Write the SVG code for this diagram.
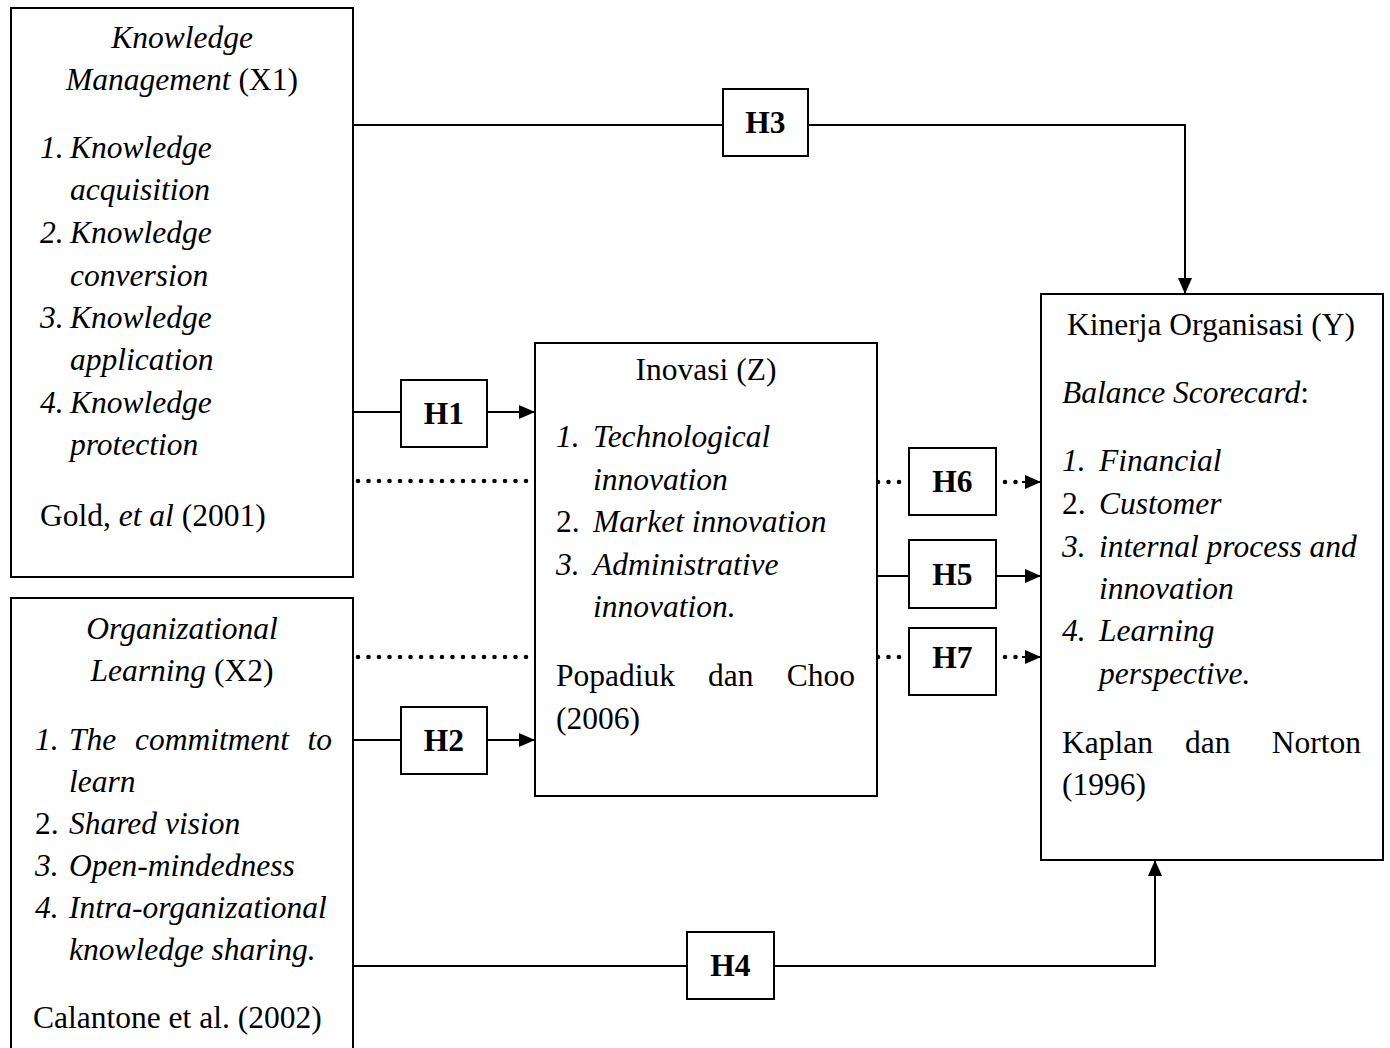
<svg xmlns="http://www.w3.org/2000/svg" width="1390" height="1048" viewBox="0 0 1390 1048">
<style>
  text { font-family: "Liberation Serif", "Times New Roman", serif; font-size: 31.5px; fill: #000; }
  .i { font-style: italic; }
  .c { text-anchor: middle; }
  .h { font-weight: bold; text-anchor: middle; }
  .box { fill: #fff; stroke: #000; stroke-width: 2; }
  .ln { fill: none; stroke: #000; stroke-width: 2; }
  .dot { fill: none; stroke: #000; stroke-width: 4.6; stroke-linecap: round; stroke-dasharray: 0 10.5; }
</style>
<defs>
  <marker id="arr" markerUnits="userSpaceOnUse" markerWidth="16" markerHeight="14" refX="16" refY="7" orient="auto">
    <path d="M0,0 L16,7 L0,14 Z" fill="#000"/>
  </marker>
</defs>
<rect width="1390" height="1048" fill="#fff"/>

<g id="connectors">
  <polyline class="ln" points="353,125 723,125"/>
  <polyline class="ln" points="808,125 1185,125 1185,294" marker-end="url(#arr)"/>
  <line class="ln" x1="353" y1="412" x2="401" y2="412"/>
  <line class="ln" x1="487" y1="412" x2="535" y2="412" marker-end="url(#arr)"/>
  <line class="dot" x1="358" y1="481" x2="532" y2="481"/>
  <line class="dot" x1="358" y1="657" x2="532" y2="657"/>
  <line class="ln" x1="353" y1="740" x2="401" y2="740"/>
  <line class="ln" x1="487" y1="740" x2="535" y2="740" marker-end="url(#arr)"/>
  <line class="dot" x1="878" y1="482" x2="908" y2="482"/>
  <line class="dot" x1="1005" y1="482" x2="1016" y2="482"/>
  <line class="ln" x1="1022" y1="482" x2="1041" y2="482" stroke-width="0" marker-end="url(#arr)"/>
  <line class="ln" x1="877" y1="576" x2="909" y2="576"/>
  <line class="ln" x1="996" y1="576" x2="1041" y2="576" marker-end="url(#arr)"/>
  <line class="dot" x1="878" y1="657" x2="908" y2="657"/>
  <line class="dot" x1="1005" y1="657" x2="1016" y2="657"/>
  <line class="ln" x1="1022" y1="657" x2="1041" y2="657" stroke-width="0" marker-end="url(#arr)"/>
  <line class="ln" x1="353" y1="966" x2="687" y2="966"/>
  <polyline class="ln" points="774,966 1155,966 1155,860" marker-end="url(#arr)"/>
</g>

<g id="x1">
  <rect class="box" x="11" y="8" width="342" height="569"/>
  <text class="i c" x="182" y="48">Knowledge</text>
  <text class="c" x="182" y="90"><tspan class="i">Management</tspan> (X1)</text>
  <text class="i" x="40" y="158">1.</text><text class="i" x="70" y="158">Knowledge</text>
  <text class="i" x="70" y="200">acquisition</text>
  <text class="i" x="40" y="243">2.</text><text class="i" x="70" y="243">Knowledge</text>
  <text class="i" x="70" y="286">conversion</text>
  <text class="i" x="40" y="328">3.</text><text class="i" x="70" y="328">Knowledge</text>
  <text class="i" x="70" y="370">application</text>
  <text class="i" x="40" y="413">4.</text><text class="i" x="70" y="413">Knowledge</text>
  <text class="i" x="70" y="455">protection</text>
  <text x="40" y="526">Gold, <tspan class="i">et al</tspan> (2001)</text>
</g>

<g id="x2">
  <rect class="box" x="11" y="598" width="342" height="460"/>
  <text class="i c" x="182" y="639">Organizational</text>
  <text class="c" x="182" y="681"><tspan class="i">Learning</tspan> (X2)</text>
  <text class="i" x="35" y="750">1.</text>
  <text class="i" x="69" y="750">The</text>
  <text class="i" x="135" y="750">commitment</text>
  <text class="i" x="332" y="750" text-anchor="end">to</text>
  <text class="i" x="69" y="792">learn</text>
  <text x="35" y="834">2.</text><text class="i" x="69" y="834">Shared vision</text>
  <text class="i" x="35" y="876">3.</text><text class="i" x="69" y="876">Open-mindedness</text>
  <text class="i" x="35" y="918">4.</text><text class="i" x="69" y="918">Intra-organizational</text>
  <text class="i" x="69" y="960">knowledge sharing.</text>
  <text x="33" y="1028">Calantone et al. (2002)</text>
</g>

<g id="z">
  <rect class="box" x="535" y="343" width="342" height="453"/>
  <text class="c" x="706" y="380">Inovasi (Z)</text>
  <text class="i" x="556" y="447">1.</text><text class="i" x="593" y="447">Technological</text>
  <text class="i" x="593" y="490">innovation</text>
  <text x="556" y="532">2.</text><text class="i" x="593" y="532">Market innovation</text>
  <text class="i" x="556" y="575">3.</text><text class="i" x="593" y="575">Administrative</text>
  <text class="i" x="593" y="617">innovation.</text>
  <text x="556" y="686">Popadiuk</text>
  <text x="708" y="686">dan</text>
  <text x="855" y="686" text-anchor="end">Choo</text>
  <text x="556" y="729">(2006)</text>
</g>

<g id="y">
  <rect class="box" x="1041" y="294" width="342" height="566"/>
  <text x="1067" y="335">Kinerja Organisasi (Y)</text>
  <text x="1062" y="403"><tspan class="i">Balance Scorecard</tspan>:</text>
  <text class="i" x="1062" y="471">1.</text><text class="i" x="1099" y="471">Financial</text>
  <text x="1062" y="514">2.</text><text class="i" x="1099" y="514">Customer</text>
  <text class="i" x="1062" y="557">3.</text><text class="i" x="1099" y="557">internal process and</text>
  <text class="i" x="1099" y="599">innovation</text>
  <text class="i" x="1062" y="641">4.</text><text class="i" x="1099" y="641">Learning</text>
  <text class="i" x="1099" y="684">perspective.</text>
  <text x="1062" y="753">Kaplan</text>
  <text x="1185" y="753">dan</text>
  <text x="1361" y="753" text-anchor="end">Norton</text>
  <text x="1062" y="795">(1996)</text>
</g>

<g id="h3"><rect class="box" x="723" y="89" width="85" height="67"/><text class="h" x="765.5" y="133">H3</text></g>
<g id="h1"><rect class="box" x="401" y="380" width="86" height="67"/><text class="h" x="444" y="424">H1</text></g>
<g id="h2"><rect class="box" x="401" y="707" width="86" height="67"/><text class="h" x="444" y="751">H2</text></g>
<g id="h6"><rect class="box" x="909" y="448" width="87" height="67"/><text class="h" x="952.5" y="492">H6</text></g>
<g id="h5"><rect class="box" x="909" y="540" width="87" height="68"/><text class="h" x="952.5" y="585">H5</text></g>
<g id="h7"><rect class="box" x="909" y="628" width="87" height="67"/><text class="h" x="952.5" y="668">H7</text></g>
<g id="h4"><rect class="box" x="687" y="932" width="87" height="67"/><text class="h" x="730.5" y="976">H4</text></g>
</svg>
